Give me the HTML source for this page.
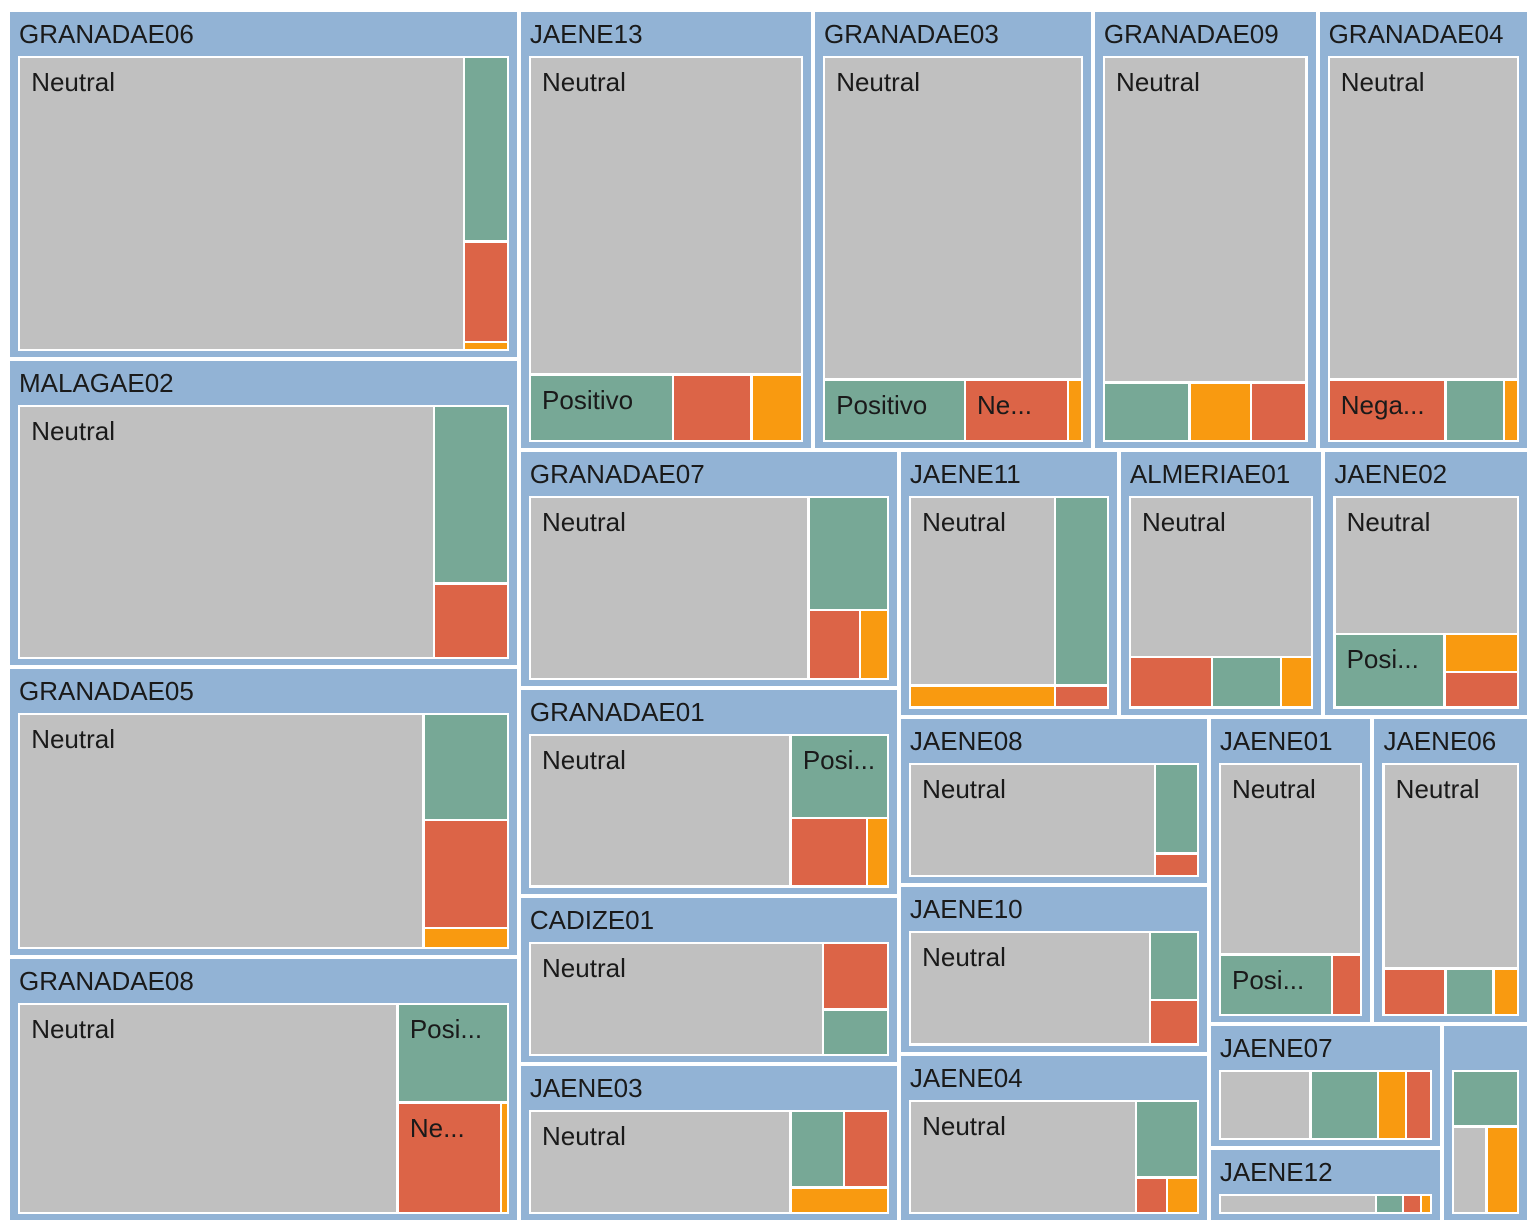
<!DOCTYPE html>
<html><head><meta charset="utf-8">
<style>
html,body{margin:0;padding:0;background:#fff;}
#chart{position:relative;width:1535px;height:1227px;overflow:hidden;font-family:"Liberation Sans",sans-serif;}
.grp{position:absolute;background:#92b3d5;overflow:hidden;}
.ttl{position:absolute;left:9px;top:7px;font-size:26px;color:#1a1a1a;white-space:nowrap;}
.inner{position:absolute;background:#fff;}
.leaf{position:absolute;overflow:hidden;}
.lbl{position:absolute;left:11px;top:9px;font-size:26px;color:#1a1a1a;white-space:nowrap;}
</style></head>
<body>
<div id="chart"></div>
<script>
const groupNames=["GRANADAE06","MALAGAE02","GRANADAE05","GRANADAE08","JAENE13","GRANADAE03","GRANADAE09","GRANADAE04","GRANADAE07","GRANADAE01","CADIZE01","JAENE03","JAENE11","ALMERIAE01","JAENE02","JAENE08","JAENE10","JAENE04","JAENE01","JAENE06","JAENE07","JAENE12",""];
const groupTotals=[171300,151280,142270,130240,124416,118368,95040,89424,87000,75750,61500,57750,56330,52400,52662,50184,50184,50184,48320,46206,27830,16560,16632];
const groupTree=['h',['v',0,1,2,3],['v',['h',4,5,6,7],['h',['v',8,9,10,11],['v',['h',12,13,14],['h',['v',15,16,17],['v',['h',18,19],['h',['v',20,21],22]]]]]]];
const leafTrees=[
 ['h',['N',127872,'Neutral'],['v',['P',7964],['Ne',4312],['O',352]]],
 ['h',['N',103500,'Neutral'],['v',['P',13024],['Ne',5476]]],
 ['h',['N',94536,'Neutral'],['v',['P',8904],['Ne',9072],['O',1680]]],
 ['h',['N',79380,'Neutral'],['v',['P',10890,'Posi...'],['h',['Ne',11433,'Ne...'],['O',777]]]],
 ['v',['N',84780,'Neutral'],['h',['P',9372,'Positivo'],['Ne',5148],['O',3300]]],
 ['v',['N',82940,'Neutral'],['h',['P',8662,'Positivo'],['Ne',6344,'Ne...'],['O',854]]],
 ['v',['N',65688,'Neutral'],['h',['P',4988],['O',3596],['Ne',3248]]],
 ['v',['N',60929,'Neutral'],['h',['Ne',7198,'Nega...'],['P',3599],['O',854]]],
 ['h',['N',50596,'Neutral'],['v',['P',8927],['h',['Ne',3519],['O',1932]]]],
 ['h',['N',39520,'Neutral'],['v',['P',8051,'Posi...'],['h',['Ne',5244],['O',1449]]]],
 ['h',['N',33288,'Neutral'],['v',['Ne',4420],['P',2990]]],
 ['h',['N',27040,'Neutral'],['v',['h',['P',4134],['Ne',3432]],['O',2522]]],
 ['h',['v',['N',27740,'Neutral'],['O',3212]],['v',['P',10070],['Ne',1166]]],
 ['v',['N',29785,'Neutral'],['h',['Ne',4233],['P',3570],['O',1632]]],
 ['v',['N',25530,'Neutral'],['h',['P',8214,'Posi...'],['v',['O',2812],['Ne',2664]]]],
 ['h',['N',28158,'Neutral'],['v',['P',3913],['Ne',989]]],
 ['h',['N',27588,'Neutral'],['v',['P',3312],['Ne',2160]]],
 ['h',['N',25992,'Neutral'],['v',['P',4836],['h',['Ne',1116],['O',1116]]]],
 ['v',['N',27360,'Neutral'],['h',['P',6840,'Posi...'],['Ne',1800]]],
 ['v',['N',27948,'Neutral'],['h',['Ne',2898],['P',2254],['O',1150]]],
 ['h',['N',91],['P',68],['O',28],['Ne',25]],
 ['h',['N',157],['P',27],['Ne',18],['O',10]],
 ['v',['P',3944],['h',['N',3150],['O',2970]]]
];
const catColors={N:'#c0c0c0',P:'#77a896',Ne:'#dc6447',O:'#f99a10'};
const catNames={N:'neutral',P:'positive',Ne:'negative',O:'other'};

function gval(n){return typeof n==='number'?groupTotals[n]:n.slice(1).reduce((s,c)=>s+gval(c),0);}
function lval(n){return (n[0]==='h'||n[0]==='v')?n.slice(1).reduce((s,c)=>s+lval(c),0):n[1];}
function layout(node,r,valFn,isLeaf,cb){
  if(isLeaf(node)){cb(node,r);return;}
  const kids=node.slice(1),tot=valFn(node);let off=0;
  kids.forEach(k=>{const f=valFn(k)/tot;
    if(node[0]==='h'){layout(k,{x:r.x+off*r.w,y:r.y,w:f*r.w,h:r.h},valFn,isLeaf,cb);}
    else{layout(k,{x:r.x,y:r.y+off*r.h,w:r.w,h:f*r.h},valFn,isLeaf,cb);}
    off+=f;});
}
const chart=document.getElementById('chart');
layout(groupTree,{x:8,y:10,w:1521,h:1212},gval,n=>typeof n==='number',(gi,r)=>{
  const g=document.createElement('div');
  g.className='grp';
  
  
  const gx=r.x+2,gy=r.y+2,gw=r.w-4,gh=r.h-4;
  g.style.cssText=`left:${gx}px;top:${gy}px;width:${gw}px;height:${gh}px`;
  const t=document.createElement('div');
  t.className='ttl';
  
  
  t.textContent=groupNames[gi];
  g.appendChild(t);
  const inn=document.createElement('div');
  inn.className='inner';
  
  
  const iw=gw-16,ih=gh-50;
  inn.style.cssText=`left:8px;top:44px;width:${iw}px;height:${ih}px`;
  g.appendChild(inn);
  layout(leafTrees[gi],{x:1,y:1,w:iw-2,h:ih-2},lval,n=>!(n[0]==='h'||n[0]==='v'),(lf,lr)=>{
    const d=document.createElement('div');
    d.className='leaf';
    
    
    d.style.cssText=`left:${lr.x+1.2}px;top:${lr.y+1.2}px;width:${Math.max(0,lr.w-2.4)}px;height:${Math.max(0,lr.h-2.4)}px;background:${catColors[lf[0]]}`;
    if(lf[2]){const l=document.createElement('div');l.className='lbl';
      
      
      l.textContent=lf[2];d.appendChild(l);}
    inn.appendChild(d);
  });
  chart.appendChild(g);
});
</script>
</body></html>
